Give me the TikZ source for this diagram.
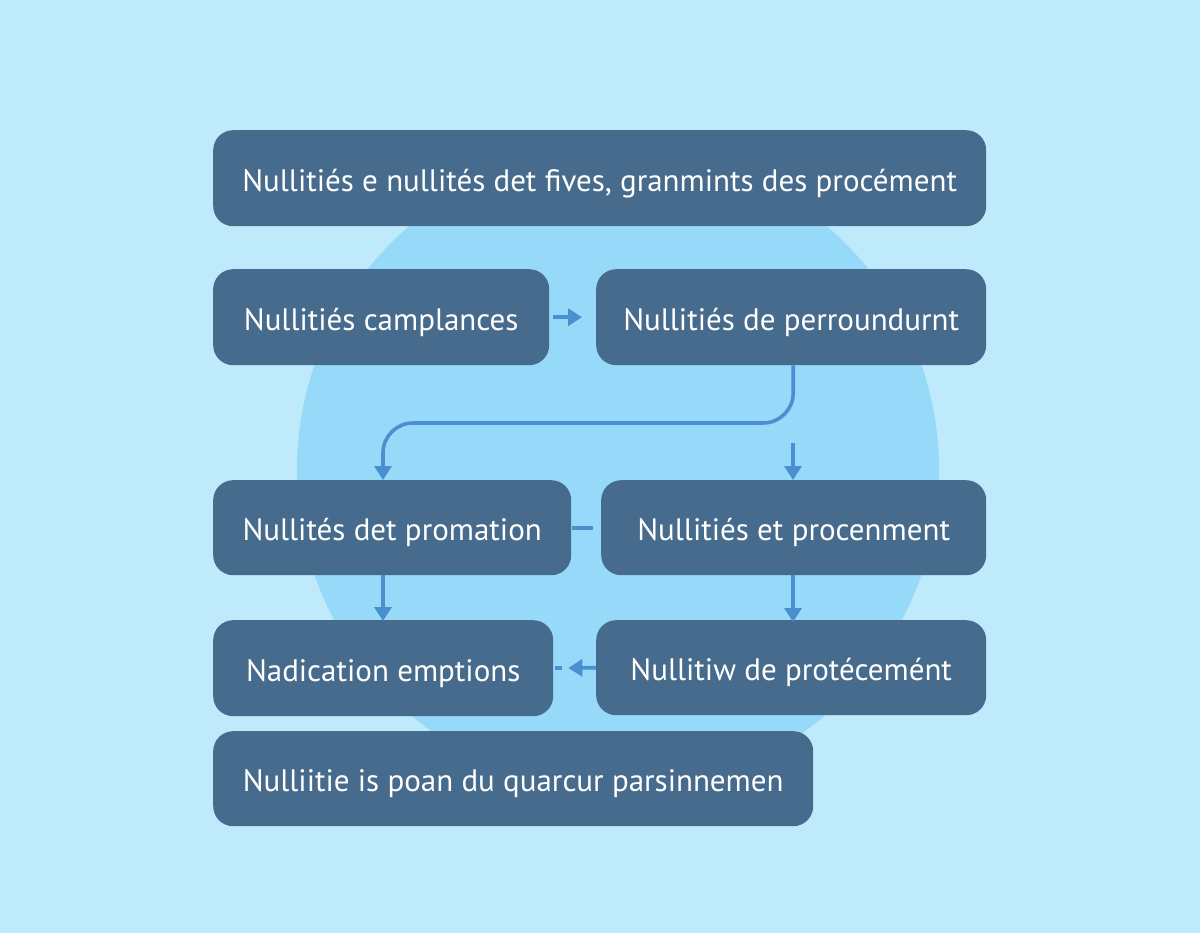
\documentclass[tikz,border=0pt]{standalone}
\usepackage{fontspec}
\setmainfont{PT Sans}
\usetikzlibrary{arrows.meta}
\definecolor{bg}{HTML}{BEEAFB}
\definecolor{circ}{HTML}{96D9F9}
\definecolor{boxc}{HTML}{466B8C}
\definecolor{arr}{HTML}{4A90D0}
\begin{document}
\begin{tikzpicture}[x=1pt,y=-1pt,
  box/.style={fill=boxc, rounded corners=20pt, text=white, font=\fontsize{31}{36}\selectfont, inner sep=0pt, text height=26pt, text depth=0pt, anchor=north west},
  link/.style={draw=arr, line width=3.6pt},
  conn/.style={link, -{Triangle[length=14pt,width=17pt]}}]
\fill[bg] (0,0) rectangle (1200,933);
\useasboundingbox (0,0) rectangle (1200,933);
\fill[circ] (618,470) circle (321);
\node[box, minimum width=773pt, minimum height=96pt] (t) at (213,130) {Nullitiés e nullités det fives, granmints des procément\hspace{8pt}};
\node[box, minimum width=336pt, minimum height=96pt] (r2l) at (213,269) {Nullitiés camplances\hspace{8pt}};
\node[box, minimum width=390pt, minimum height=96pt] (r2r) at (596,269) {Nullitiés de perroundurnt};
\node[box, minimum width=358pt, minimum height=95pt] (r3l) at (213,480) {Nullités det promation\hspace{6pt}};
\node[box, minimum width=385pt, minimum height=95pt] (r3r) at (601,480) {Nullitiés et procenment};
\node[box, minimum width=340pt, minimum height=96pt] (r4l) at (213,620) {Nadication emptions\hspace{8pt}};
\node[box, minimum width=390pt, minimum height=95pt] (r4r) at (596,620) {Nullitiw de protécemént\hspace{10pt}};
\node[box, minimum width=600pt, minimum height=95pt] (r5) at (213,731) {Nulliitie is poan du quarcur parsinnemen\hspace{10pt}};
\coordinate (c1) at (383,423);
\coordinate (c2) at (793,443);
\draw[conn, shorten <=4pt, shorten >=14pt] (r2l.east) -- (r2r.west);
\draw[conn, rounded corners=30pt] ([xshift=2pt]r2r.south) |- (c1) -- (c1 |- r3l.north);
\draw[conn] (c2) -- (c2 |- r3r.north);
\draw[link] ([xshift=1pt]r3l.east) -- ([xshift=-8pt]r3r.west);
\draw[conn] (r3l.south -| c1) -- ([yshift=-1pt]r4l.north -| c1);
\draw[conn] (r3r.south -| c2) -- ([yshift=-2pt]r4r.north -| c2);
\draw[conn, shorten >=15pt] (r4r.west) -- (r4l.east);
\draw[link] ([xshift=2pt]r4l.east) -- ([xshift=9pt]r4l.east);
\end{tikzpicture}
\end{document}
